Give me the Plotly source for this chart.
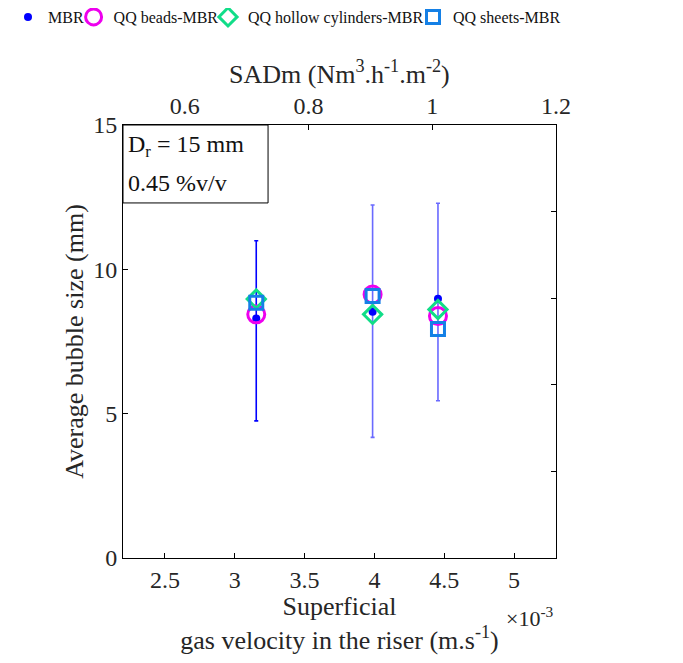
import plotly.graph_objects as go

# ---- data ----
velocity = [3.154e-3, 3.987e-3, 4.455e-3]          # superficial gas velocity (m/s)
sadm = [0.75, 0.90, 1.00]                           # SADm (Nm3/h/m2)
mbr = [8.30, 8.53, 8.98]
qq_beads = [8.44, 9.13, 8.38]
qq_hollow = [8.97, 8.44, 8.61]
qq_sheets = [8.84, 9.08, 7.93]
mbr_err_top = [10.99, 12.23, 12.29]
mbr_err_bottom = [4.75, 4.18, 5.45]
x_ticks = [2.5e-3, 3.0e-3, 3.5e-3, 4.0e-3, 4.5e-3, 5.0e-3]
x_ticklabels = ["2.5", "3", "3.5", "4", "4.5", "5"]
top_ticks = [0.6, 0.8, 1.0, 1.2]
top_ticklabels = ["0.6", "0.8", "1", "1.2"]

FONT = "Liberation Serif, Times New Roman, serif"
TXT = "#262626"
err_colors = ["#0000ff", "#6a6aff", "#6a6aff"]

# the page adds an 8px body margin, so the figure is 16px smaller than the window
W, H = 667, 647

fig = go.Figure()

# error bars (one trace per point, so each can have its own shade)
for i in range(len(velocity)):
    fig.add_trace(go.Scatter(
        x=[velocity[i]], y=[mbr[i]], mode="markers",
        marker=dict(size=1, color="rgba(0,0,0,0)"),
        error_y=dict(type="data", symmetric=False,
                     array=[mbr_err_top[i] - mbr[i]],
                     arrayminus=[mbr[i] - mbr_err_bottom[i]],
                     color=err_colors[i], thickness=1.6, width=2),
        showlegend=False, hoverinfo="skip"))

fig.add_trace(go.Scatter(
    x=velocity, y=mbr, mode="markers", name="MBR", legend="legend",
    marker=dict(symbol="circle", size=8, color="#0000ff")))
fig.add_trace(go.Scatter(
    x=velocity, y=qq_beads, mode="markers", name="QQ beads-MBR", legend="legend2",
    marker=dict(symbol="circle-open", size=17, color="#ee00ee", line=dict(width=3))))
fig.add_trace(go.Scatter(
    x=velocity, y=qq_hollow, mode="markers", name="QQ hollow cylinders-MBR", legend="legend3",
    marker=dict(symbol="diamond-open", size=14, color="#11dd88", line=dict(width=3))))
fig.add_trace(go.Scatter(
    x=velocity, y=qq_sheets, mode="markers", name="QQ sheets-MBR", legend="legend4",
    marker=dict(symbol="square-open", size=13, color="#1480e6", line=dict(width=3))))

# invisible traces for the secondary axes
fig.add_trace(go.Scatter(x=sadm, y=mbr, xaxis="x2", yaxis="y", mode="markers",
                         marker=dict(opacity=0), showlegend=False, hoverinfo="skip"))
fig.add_trace(go.Scatter(x=velocity, y=mbr, xaxis="x", yaxis="y2", mode="markers",
                         marker=dict(opacity=0), showlegend=False, hoverinfo="skip"))

axis_common = dict(showgrid=False, zeroline=False, showline=True, linecolor="black",
                   linewidth=1, ticks="inside", ticklen=5, tickcolor="black",
                   automargin=False,
                   tickfont=dict(family=FONT, size=24, color=TXT))


def legend_box(left_px):
    return dict(orientation="h", xref="container", yref="container",
                x=left_px / W, xanchor="left", y=1 - 9 / H, yanchor="middle",
                font=dict(family=FONT, size=16, color="#111"),
                bgcolor="rgba(0,0,0,0)", itemwidth=30, borderwidth=0)


fig.update_layout(
    width=W, height=H,
    margin=dict(l=115, r=119, t=117, b=97, autoexpand=False),
    paper_bgcolor="white", plot_bgcolor="white",
    font=dict(family=FONT, size=24, color=TXT),
    xaxis=dict(range=[2.2e-3, 5.3e-3], tickvals=x_ticks, ticktext=x_ticklabels,
               title=dict(text="Superficial<br>gas velocity in the riser (m.s<sup>-1</sup>)",
                          font=dict(family=FONT, size=26, color=TXT), standoff=2),
               **axis_common),
    xaxis2=dict(range=[0.5, 1.2], tickvals=top_ticks, ticktext=top_ticklabels,
                overlaying="x", side="top", anchor="y",
                **axis_common),
    yaxis=dict(range=[0, 15], tickvals=[0, 5, 10, 15],
               title=dict(text="Average bubble size (mm)",
                          font=dict(family=FONT, size=26, color=TXT), standoff=2),
               **axis_common),
    yaxis2=dict(range=[0, 15], tickvals=[0, 3, 6, 9, 12, 15], showticklabels=False,
                overlaying="y", side="right", anchor="x",
                **axis_common),
    legend=legend_box(0),
    legend2=legend_box(65.6),
    legend3=legend_box(200),
    legend4=legend_box(405),
    shapes=[dict(type="rect", xref="paper", yref="paper", x0=0, x1=0.335, y0=0.82, y1=1,
                 line=dict(color="black", width=1), fillcolor="white", layer="above")],
    annotations=[
        dict(text="SADm (Nm<sup>3</sup>.h<sup>-1</sup>.m<sup>-2</sup>)", xref="paper", yref="paper",
             x=0.5, y=1.122, xanchor="center", yanchor="middle", showarrow=False,
             font=dict(family=FONT, size=26, color=TXT)),
        dict(text="D<sub>r</sub> = 15 mm", xref="paper", yref="paper",
             x=0.007, y=0.952, xanchor="left", yanchor="middle", showarrow=False,
             font=dict(family=FONT, size=24, color="#111")),
        dict(text="0.45 %v/v", xref="paper", yref="paper",
             x=0.007, y=0.866, xanchor="left", yanchor="middle", showarrow=False,
             font=dict(family=FONT, size=24, color="#111")),
        dict(text="\u00d710<sup>-3</sup>", xref="paper", yref="paper",
             x=1.0, y=-0.1, xanchor="right", yanchor="top", showarrow=False,
             font=dict(family=FONT, size=22, color=TXT)),
    ],
)

fig.write_html("out.html")
